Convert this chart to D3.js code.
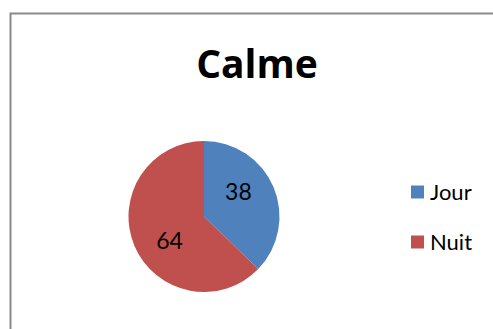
<!DOCTYPE html>
<html>
<head>
<meta charset="utf-8">
<script src="https://cdn.jsdelivr.net/npm/d3@7"></script>
<style>
  html, body { margin: 0; padding: 0; background: #fff; }
  svg { display: block; }
</style>
</head>
<body>
<svg id="chart" width="493" height="329"></svg>
<script>
// Chart data
const title = "Calme";
const categories = ["Jour", "Nuit"];
const values = [38, 64];
const colors = ["#4F81BD", "#C0504D"];

const svg = d3.select("#chart");
const font = "Lato, 'Open Sans', sans-serif";

// Outer frame (runs past the right and bottom edges)
svg.append("rect")
  .attr("x", 10.5).attr("y", 13.5)
  .attr("width", 520).attr("height", 400)
  .attr("fill", "#fff")
  .attr("stroke", "#8a8a8a")
  .attr("stroke-width", 2);

// Title
svg.append("text")
  .attr("x", 257).attr("y", 78)
  .attr("text-anchor", "middle")
  .attr("font-family", "'Open Sans', Lato, sans-serif")
  .attr("font-weight", "bold")
  .attr("font-size", 39)
  .attr("fill", "#000")
  .text(title);

// Pie
const cx = 204, cy = 216.5, r = 75.5;
const pie = d3.pie().sort(null).value(d => d)
  .startAngle(0).endAngle(2 * Math.PI);
const arcs = pie(values);
const arc = d3.arc().innerRadius(0).outerRadius(r);

// Value labels sit a little counter-clockwise of each slice's middle
const labelShift = 12.5 * Math.PI / 180;
const labelArc = d3.arc().innerRadius(0).outerRadius(r * 1.12);
const labelPos = d => labelArc.centroid({
  startAngle: d.startAngle - labelShift,
  endAngle: d.endAngle - labelShift
});

const g = svg.append("g").attr("transform", `translate(${cx},${cy})`);
g.selectAll("path.slice")
  .data(arcs)
  .enter().append("path")
  .attr("class", "slice")
  .attr("d", arc)
  .attr("fill", (d, i) => colors[i]);

g.selectAll("text.value")
  .data(arcs)
  .enter().append("text")
  .attr("class", "value")
  .attr("transform", d => {
    const [x, y] = labelPos(d);
    return `translate(${x},${y})`;
  })
  .attr("text-anchor", "middle")
  .attr("dy", "0.36em")
  .attr("font-family", font)
  .attr("font-size", 23)
  .attr("fill", "#000")
  .text(d => d.data);

// Legend
const legend = svg.append("g").attr("transform", "translate(411,0)");
const legendY = d3.scalePoint().domain(categories).range([192, 242]);
categories.forEach((c, i) => {
  const y = legendY(c);
  legend.append("rect")
    .attr("x", 0).attr("y", y - 6.5)
    .attr("width", 13).attr("height", 13)
    .attr("fill", colors[i]);
  legend.append("text")
    .attr("x", 19).attr("y", y + 7.5)
    .attr("font-family", font)
    .attr("font-size", 22)
    .attr("fill", "#000")
    .text(c);
});
</script>
</body>
</html>
